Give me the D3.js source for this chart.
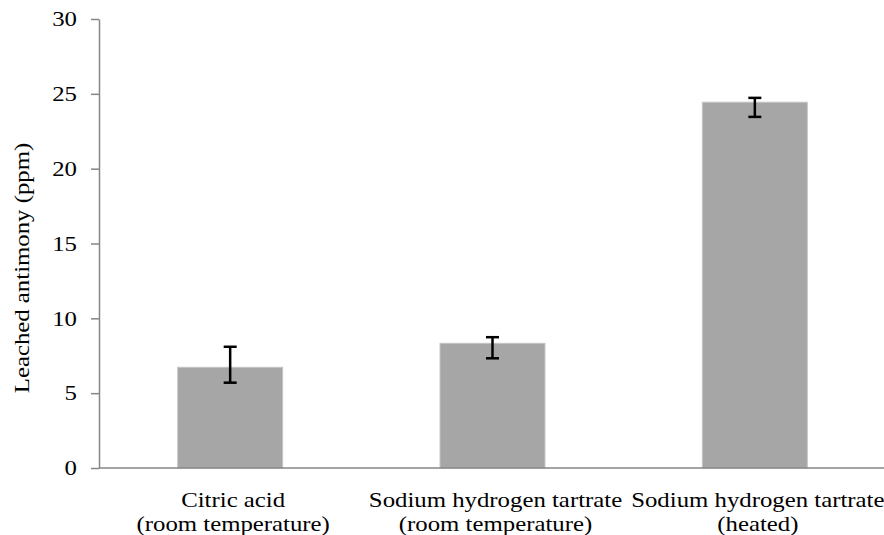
<!DOCTYPE html>
<html>
<head>
<meta charset="utf-8">
<script src="https://cdn.jsdelivr.net/npm/d3@7"></script>
<style>
  body { margin: 0; background: #fff; }
  text { font-family: "Liberation Serif", "Times New Roman", serif; fill: #000; }
</style>
</head>
<body>
<div id="chart"></div>
<script>
var svgWidth = 884;
var svgHeight = 535;

// data
var categories = [
  ["Citric acid", "(room temperature)"],
  ["Sodium hydrogen tartrate", "(room temperature)"],
  ["Sodium hydrogen tartrate", "(heated)"]
];
var values = [6.73, 8.33, 24.44];
var errUpper = [8.1, 8.74, 24.73];
var errLower = [5.7, 7.33, 23.46];
var yTicks = [0, 5, 10, 15, 20, 25, 30];

var plot = { left: 99, right: 886, top: 19, bottom: 468 };
var stretch = 1.24; // text in the picture is drawn wide

var svg = d3.select("#chart")
  .append("svg")
  .attr("width", svgWidth)
  .attr("height", svgHeight);

var keys = categories.map((c, i) => "c" + i);

var x = d3.scaleBand()
  .domain(keys)
  .range([plot.left, plot.right])
  .paddingInner(0.6)
  .paddingOuter(0.3);

var y = d3.scaleLinear()
  .domain([0, 30])
  .range([plot.bottom, plot.top]);

// bars
svg.selectAll("rect.bar")
  .data(values)
  .enter()
  .append("rect")
  .attr("class", "bar")
  .attr("x", (d, i) => x(keys[i]))
  .attr("y", d => y(d))
  .attr("width", x.bandwidth())
  .attr("height", d => y(0) - y(d))
  .attr("fill", "#a6a6a6")
  .attr("stroke", "#c4c4c4")
  .attr("stroke-width", 1);

// y axis
var yAxis = svg.append("g")
  .attr("transform", `translate(${plot.left},0)`)
  .call(d3.axisLeft(y).tickValues(yTicks).tickSize(8).tickSizeOuter(0).tickPadding(14));

yAxis.select(".domain").attr("stroke", "#868686").attr("stroke-width", 1.5);
yAxis.selectAll(".tick line").attr("stroke", "#868686").attr("stroke-width", 1.5);
yAxis.selectAll(".tick text")
  .attr("font-size", 20)
  .attr("font-family", "Liberation Serif, serif")
  .attr("fill", "#000")
  .attr("dy", "0.34em")
  .attr("transform", `scale(${stretch},1)`)
  .attr("x", -22 / stretch);

// x axis line
svg.append("line")
  .attr("x1", plot.left)
  .attr("x2", svgWidth)
  .attr("y1", y(0))
  .attr("y2", y(0))
  .attr("stroke", "#868686")
  .attr("stroke-width", 1.5);

// error bars
var errG = svg.append("g")
  .attr("stroke", "#000")
  .attr("stroke-width", 2.5);

values.forEach(function(v, i) {
  var cx = x(keys[i]) + x.bandwidth() / 2;
  errG.append("line")
    .attr("x1", cx).attr("x2", cx)
    .attr("y1", y(errUpper[i])).attr("y2", y(errLower[i]));
  errG.append("line")
    .attr("x1", cx - 6.5).attr("x2", cx + 6.5)
    .attr("y1", y(errUpper[i])).attr("y2", y(errUpper[i]));
  errG.append("line")
    .attr("x1", cx - 6.5).attr("x2", cx + 6.5)
    .attr("y1", y(errLower[i])).attr("y2", y(errLower[i]));
});

// category labels
categories.forEach(function(lines, i) {
  var cx = x(keys[i]) + x.bandwidth() / 2 + 3;
  lines.forEach(function(t, j) {
    svg.append("text")
      .attr("transform", `translate(${cx},${507 + j * 24}) scale(${stretch},1)`)
      .attr("text-anchor", "middle")
      .attr("font-size", 20)
      .text(t);
  });
});

// y axis title
svg.append("text")
  .attr("transform", `translate(29,268) rotate(-90) scale(${stretch},1)`)
  .attr("text-anchor", "middle")
  .attr("font-size", 20)
  .text("Leached antimony (ppm)");
</script>
</body>
</html>
